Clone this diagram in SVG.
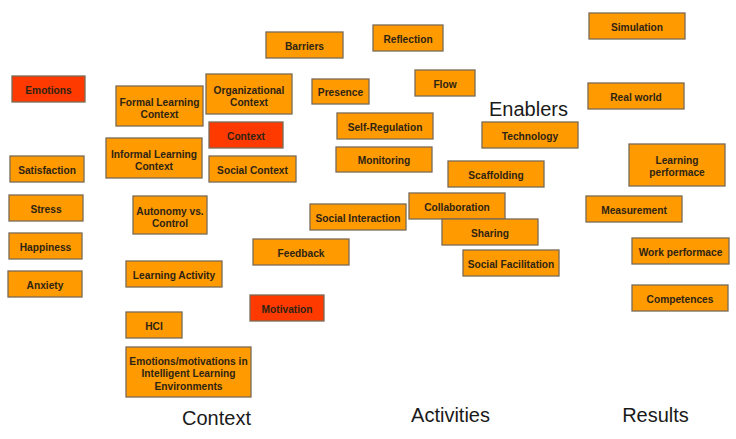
<svg xmlns="http://www.w3.org/2000/svg" width="736" height="439" viewBox="0 0 736 439">
<style>
.b rect{fill:#FF9A00;stroke:#7a6a55;stroke-width:1.3}
.r rect{fill:#FF3A00;stroke:#7a6a55;stroke-width:1.3}
.b text,.r text{font-family:"Liberation Sans",Arial,sans-serif;font-weight:bold;font-size:10.2px;fill:#2e2414;text-anchor:middle}
.h{font-family:"Liberation Sans",Arial,sans-serif;font-size:20px;fill:#1a1a1a;text-anchor:middle}
</style>
<rect width="736" height="439" fill="#fff"/>
<g id="connectors"></g>
<g transform="translate(0,0.8)">
<g id="emotions" class="r"><rect x="12" y="75.2" width="73" height="26"/><text x="48.5" y="93">Emotions</text></g>
</g>
<g id="formal" class="b"><rect x="116" y="86" width="87" height="40"/><text x="159.5" y="106">Formal Learning</text><text x="159.5" y="118">Context</text></g>
<g id="organizational" class="b"><rect x="206" y="74" width="86" height="40"/><text x="249" y="94">Organizational</text><text x="249" y="106">Context</text></g>
<g id="context" class="r"><rect x="209" y="122" width="74" height="26"/><text x="246" y="139.8">Context</text></g>
<g id="informal" class="b"><rect x="106" y="138" width="96" height="40"/><text x="154" y="158">Informal Learning</text><text x="154" y="170">Context</text></g>
<g id="social-context" class="b"><rect x="209" y="156" width="87" height="26"/><text x="252.5" y="173.8">Social Context</text></g>
<g id="satisfaction" class="b"><rect x="10" y="156" width="74" height="26"/><text x="47" y="173.8">Satisfaction</text></g>
<g id="stress" class="b"><rect x="9" y="195" width="74" height="26"/><text x="46" y="212.8">Stress</text></g>
<g id="happiness" class="b"><rect x="9" y="233" width="73" height="26"/><text x="45.5" y="250.8">Happiness</text></g>
<g id="anxiety" class="b"><rect x="8" y="271" width="74" height="26"/><text x="45" y="288.8">Anxiety</text></g>
<g id="autonomy" class="b"><rect x="133" y="196" width="74" height="38"/><text x="170" y="214.5">Autonomy vs.</text><text x="170" y="227">Control</text></g>
<g id="learning-activity" class="b"><rect x="126" y="261" width="96" height="26"/><text x="174" y="278.8">Learning Activity</text></g>
<g id="feedback" class="b"><rect x="253" y="239" width="96" height="26"/><text x="301" y="256.8">Feedback</text></g>
<g id="motivation" class="r"><rect x="250" y="295" width="74" height="26"/><text x="287" y="312.8">Motivation</text></g>
<g id="hci" class="b"><rect x="126" y="312" width="56" height="26"/><text x="154" y="329.8">HCI</text></g>
<g id="ile" class="b"><rect x="126" y="347" width="125" height="50"/><text x="188.5" y="364.5">Emotions/motivations in</text><text x="188.5" y="377">Intelligent Learning</text><text x="188.5" y="389.5">Environments</text></g>
<g id="barriers" class="b"><rect x="266" y="32" width="77" height="26"/><text x="304.5" y="49.8">Barriers</text></g>
<g id="reflection" class="b"><rect x="373" y="25" width="70" height="26"/><text x="408" y="42.8">Reflection</text></g>
<g id="presence" class="b"><rect x="312" y="79" width="57" height="25"/><text x="340.5" y="96.3">Presence</text></g>
<g id="flow" class="b"><rect x="415" y="70" width="60" height="26"/><text x="445" y="87.8">Flow</text></g>
<g id="self-regulation" class="b"><rect x="337" y="113" width="96" height="26"/><text x="385" y="130.8">Self-Regulation</text></g>
<g id="monitoring" class="b"><rect x="336" y="147" width="96" height="25"/><text x="384" y="164.3">Monitoring</text></g>
<g id="technology" class="b"><rect x="482" y="122" width="96" height="26"/><text x="530" y="139.8">Technology</text></g>
<g id="scaffolding" class="b"><rect x="448" y="161" width="96" height="26"/><text x="496" y="178.8">Scaffolding</text></g>
<g id="social-interaction" class="b"><rect x="310" y="204" width="96" height="26"/><text x="358" y="221.8">Social Interaction</text></g>
<g id="collaboration" class="b"><rect x="409" y="193" width="96" height="26"/><text x="457" y="210.8">Collaboration</text></g>
<g id="sharing" class="b"><rect x="442" y="219" width="96" height="26"/><text x="490" y="236.8">Sharing</text></g>
<g id="social-facilitation" class="b"><rect x="463" y="250" width="96" height="26"/><text x="511" y="267.8">Social Facilitation</text></g>
<g id="simulation" class="b"><rect x="589" y="13" width="96" height="26"/><text x="637" y="30.8">Simulation</text></g>
<g id="real-world" class="b"><rect x="588" y="83" width="96" height="26"/><text x="636" y="100.8">Real world</text></g>
<g id="learning-performance" class="b"><rect x="629" y="144" width="96" height="42"/><text x="677" y="163.5">Learning</text><text x="677" y="176">performace</text></g>
<g id="measurement" class="b"><rect x="586" y="196" width="96" height="26"/><text x="634" y="213.8">Measurement</text></g>
<g id="work-performance" class="b"><rect x="632" y="238" width="97" height="26"/><text x="680.5" y="255.8">Work performace</text></g>
<g id="competences" class="b"><rect x="632" y="285" width="96" height="26"/><text x="680" y="302.8">Competences</text></g>
<text class="h" x="528.5" y="116">Enablers</text>
<text class="h" x="216.5" y="425">Context</text>
<text class="h" x="450.5" y="422">Activities</text>
<text class="h" x="655.5" y="422">Results</text>
</svg>
